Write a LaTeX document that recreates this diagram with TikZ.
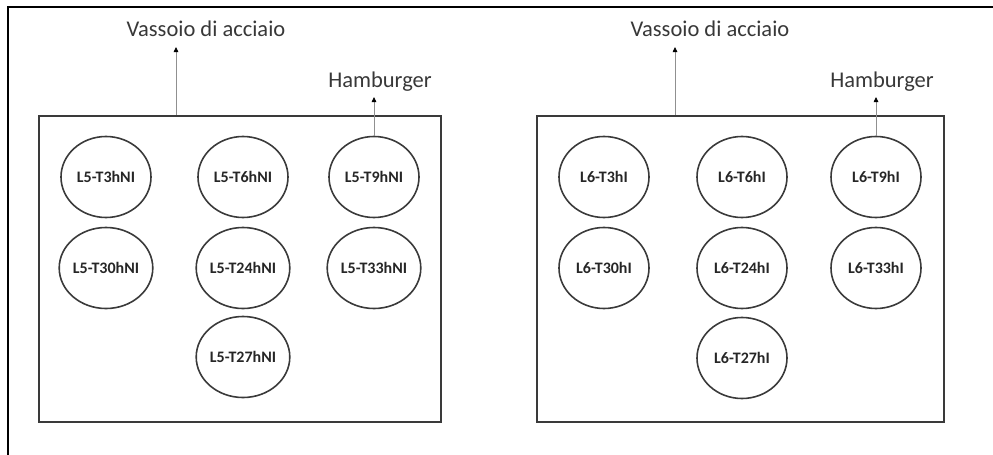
\documentclass[tikz,border=0pt]{standalone}
\usepackage{fontspec}
\setmainfont{Carlito}
\usetikzlibrary{shapes.geometric,arrows.meta}
\definecolor{boxc}{HTML}{3A3A3A}
\definecolor{arrc}{HTML}{909090}
\tikzset{
  tray/.style={draw=boxc,line width=1.8pt},
  pat/.style={ellipse,draw=boxc,line width=1.6pt,minimum width=90pt,minimum height=81pt,inner sep=0pt,font=\bfseries\fontsize{16}{18}\selectfont,text=black!85},
  lbl/.style={font=\fontsize{22.5}{26}\selectfont,text=black!78,inner sep=0pt},
  arr/.style={draw=arrc,line width=0.8pt,-{Triangle[length=5pt,width=4.5pt,fill=black,color=black]}},
  frame/.style={draw=black,line width=2pt}
}
\begin{document}
\begin{tikzpicture}[x=1pt,y=-1pt]
\useasboundingbox (0,0) rectangle (993,455);
% outer frame
\coordinate (fTL) at (8,7);
\coordinate (fTR) at (993,7);
\coordinate (fBL) at (8,455);
\draw[frame] (fTR) -- (fTL) -- (fBL);
% left tray
\node[tray,minimum width=402pt,minimum height=306pt,inner sep=0pt] (boxL) at (240,269) {};
\node[pat] (l3)  at (106,177) {L5-T3hNI};
\node[pat] (l6)  at (243,177) {L5-T6hNI};
\node[pat] (l9)  at (374,177) {L5-T9hNI};
\node[pat] (l30) at (106,268) {L5-T30hNI};
\node[pat] (l24) at (243,268) {L5-T24hNI};
\node[pat] (l33) at (374,268) {L5-T33hNI};
\node[pat] (l27) at (243,357) {L5-T27hNI};
\node[lbl] (vL) at (206,29) {Vassoio di acciaio};
\node[lbl] (hL) at (380,82) {Hamburger};
\coordinate (vtipL) at (176,47);
\coordinate (htipL) at (374,97);
\draw[arr] (boxL.north -| vtipL) -- (vtipL);
\draw[arr] (l9.north) -- (htipL);
% right tray
\node[tray,minimum width=407pt,minimum height=306pt,inner sep=0pt] (boxR) at (740.5,269) {};
\node[pat] (r3)  at (604,177) {L6-T3hI};
\node[pat] (r6)  at (742,177) {L6-T6hI};
\node[pat] (r9)  at (876,177) {L6-T9hI};
\node[pat] (r30) at (604,268) {L6-T30hI};
\node[pat] (r24) at (742,268) {L6-T24hI};
\node[pat] (r33) at (876,268) {L6-T33hI};
\node[pat] (r27) at (742,358) {L6-T27hI};
\node[lbl] (vR) at (710,29) {Vassoio di acciaio};
\node[lbl] (hR) at (882,82) {Hamburger};
\coordinate (vtipR) at (675,47);
\coordinate (htipR) at (876,97);
\draw[arr] (boxR.north -| vtipR) -- (vtipR);
\draw[arr] (r9.north) -- (htipR);
\end{tikzpicture}
\end{document}
